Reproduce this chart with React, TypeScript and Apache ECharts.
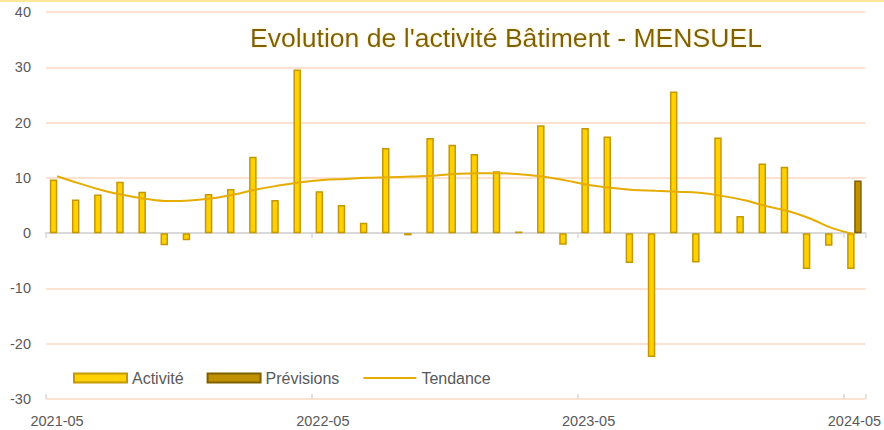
import React, { useEffect, useRef } from "react";
import * as echarts from "echarts";

const categories = [
  "2021-05", "2021-06", "2021-07", "2021-08", "2021-09", "2021-10", "2021-11", "2021-12",
  "2022-01", "2022-02", "2022-03", "2022-04", "2022-05", "2022-06", "2022-07", "2022-08",
  "2022-09", "2022-10", "2022-11", "2022-12", "2023-01", "2023-02", "2023-03", "2023-04",
  "2023-05", "2023-06", "2023-07", "2023-08", "2023-09", "2023-10", "2023-11", "2023-12",
  "2024-01", "2024-02", "2024-03", "2024-04", "2024-05",
];

const activite = [
  9.7, 6.1, 7.0, 9.3, 7.5, -2.2, -1.3, 7.1, 8.0, 13.8, 6.0, 29.6,
  7.6, 5.1, 1.9, 15.4, -0.4, 17.2, 16.0, 14.3, 11.2, 0.3, 19.5, -2.1,
  19.0, 17.5, -5.4, -22.4, 25.6, -5.3, 17.3, 3.1, 12.6, 12.0, -6.5, -2.3, -6.5,
];

const previsions: (number | null)[] = [...Array(36).fill(null), 9.5];

const tendance = [
  10.3, 9.0, 7.8, 6.9, 6.2, 5.8, 5.9, 6.3, 7.0, 7.9, 8.6, 9.2,
  9.6, 9.8, 10.0, 10.1, 10.25, 10.4, 10.7, 10.85, 10.85, 10.6, 10.2, 9.5,
  8.7, 8.2, 7.8, 7.65, 7.5, 7.3, 6.75, 6.0, 4.9, 4.0, 2.65, 0.9, -0.2,
];

const yTicks = { min: -30, max: 40, interval: 10 };

export default function App() {
  const ref = useRef<HTMLDivElement>(null);
  useEffect(() => {
    if (!ref.current) return;
    const chart = echarts.init(ref.current, undefined, { renderer: "svg" });
    const font = "'Liberation Sans', Arial, sans-serif";
    chart.setOption({
      animation: false,
      textStyle: { fontFamily: font },
      title: {
        text: "Evolution de l'activité Bâtiment - MENSUEL",
        left: 506,
        textAlign: "center",
        top: 24,
        padding: 0,
        textStyle: {
          fontFamily: font,
          fontSize: 26.6,
          fontWeight: "normal",
          color: "#7f6000",
          textShadowColor: "rgba(255,230,150,0.9)",
          textShadowBlur: 2,
        },
      },
      graphic: [
        {
          type: "rect",
          shape: { x: 0, y: 0, width: 884, height: 2 },
          style: { fill: "#ffe699" },
          silent: true,
        },
      ],
      legend: {
        left: 73,
        top: 370,
        padding: 0,
        itemWidth: 53,
        itemHeight: 9,
        itemGap: 23,
        textStyle: { fontFamily: font, fontSize: 16, color: "#595959" },
        data: [
          { name: "Activité", icon: "rect" },
          { name: "Prévisions", icon: "rect" },
          { name: "Tendance", itemStyle: { opacity: 0 } },
        ],
      },
      grid: { left: 46, right: 18, top: 12, height: 387 },
      xAxis: [
        {
          type: "category",
          data: categories,
          position: "bottom",
          axisLine: { show: false, onZero: false },
          axisTick: { show: false },
          axisLabel: {
            interval: 11,
            fontFamily: font,
            fontSize: 14.5,
            color: "#595959",
            margin: 14,
          },
          splitLine: { show: false },
        },
        {
          type: "category",
          data: categories,
          position: "bottom",
          axisLine: { show: true, onZero: true, lineStyle: { color: "#d9d9d9", width: 2 } },
          axisTick: { show: true, interval: 11, length: 5, lineStyle: { color: "#d9d9d9", width: 1.5 } },
          axisLabel: { show: false },
          splitLine: { show: false },
        },
        {
          type: "category",
          data: categories,
          position: "bottom",
          axisLine: { show: false, onZero: true },
          axisTick: { show: true, inside: true, interval: 11, length: 5, lineStyle: { color: "#d9d9d9", width: 1.5 } },
          axisLabel: { show: false },
          splitLine: { show: false },
        },
      ],
      yAxis: {
        type: "value",
        min: yTicks.min,
        max: yTicks.max,
        interval: yTicks.interval,
        axisLine: { show: false },
        axisTick: { show: false },
        axisLabel: { fontFamily: font, fontSize: 14.5, color: "#595959", margin: 15 },
        splitLine: { lineStyle: { color: "#fcd9c2", width: 1.5 } },
      },
      series: [
        {
          name: "Activité",
          type: "bar",
          data: activite,
          barWidth: 7.5,
          barGap: "-6%",
          itemStyle: { color: "#ffd100", borderColor: "#c39800", borderWidth: 1.5 },
          z: 3,
        },
        {
          name: "Prévisions",
          type: "bar",
          data: previsions,
          barWidth: 7.5,
          barGap: "-6%",
          itemStyle: { color: "#bf9000", borderColor: "#7f6000", borderWidth: 1.5 },
          z: 3,
        },
        {
          name: "Tendance",
          type: "line",
          data: tendance,
          smooth: 0.4,
          symbol: "none",
          lineStyle: { color: "#e6ac00", width: 2 },
          itemStyle: { color: "#e6ac00" },
          z: 4,
        },
      ],
    });
    return () => chart.dispose();
  }, []);
  return (
    <div
      ref={ref}
      style={{ position: "fixed", left: 0, top: 0, width: 884, height: 430, background: "#ffffff" }}
    />
  );
}
